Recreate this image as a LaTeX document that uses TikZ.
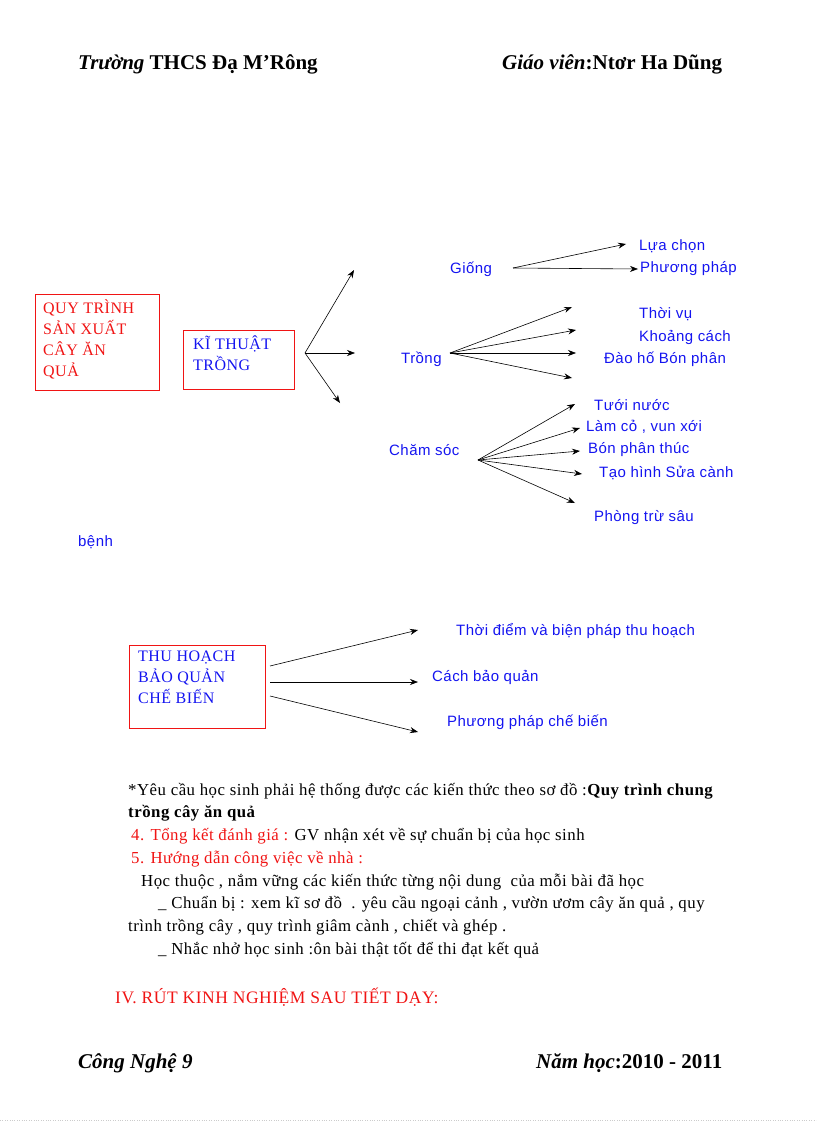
\documentclass[tikz,border=0pt]{standalone}
\usepackage{fontspec}
\setmainfont{Liberation Serif}
\newfontfamily\lab[LetterSpace=3]{Liberation Sans}
\newfontfamily\bod[LetterSpace=3]{Liberation Serif}
\usetikzlibrary{arrows.meta}
\definecolor{lblue}{RGB}{20,20,240}
\definecolor{lred}{RGB}{240,20,20}
\tikzset{
 lbl/.style={anchor=west,inner sep=0pt,font=\lab\fontsize{15}{16}\selectfont,text=lblue},
 txt/.style={anchor=west,inner sep=0pt,font=\bod\fontsize{16.8}{18}\selectfont},
 boxt/.style={align=left,anchor=north west,inner sep=0pt,font=\bod\fontsize{16}{21}\selectfont},
 hdr/.style={anchor=west,inner sep=0pt,font=\bfseries\fontsize{21}{23}\selectfont},
 arr/.style={-{Stealth[length=8pt,width=6pt]},line width=0.6pt},
}
\begin{document}
\begin{tikzpicture}[x=1pt,y=-1pt]
\useasboundingbox (0,0) rectangle (816,1123);
\node[hdr] (h1) at (78,64) {\itshape Trường\upshape{} THCS Đạ M’Rông};
\node[hdr] (h2) at (502,64) {\itshape Giáo viên\upshape:Ntơr Ha Dũng};
\node[hdr] (f1) at (78,1063) {\itshape Công Nghệ 9};
\node[hdr] (f2) at (536,1063) {\itshape Năm học\upshape:2010 - 2011};
\draw[gray!40,dotted] (0,1120) -- (816,1120);
% boxes
\draw[lred,line width=0.8pt] (35,294) rectangle (159,390);
\node[boxt,text=lred] (qt) at (43,300) {QUY TRÌNH\\SẢN XUẤT\\CÂY ĂN\\QUẢ};
\draw[lred,line width=0.8pt] (183,330) rectangle (294,389);
\node[boxt,text=lblue] (kt) at (193,336) {KĨ THUẬT\\TRỒNG};
\coordinate (k0) at (305,353);
\coordinate (k1) at (354,270); \coordinate (k2) at (355,353); \coordinate (k3) at (340,403);
\draw[arr] (k0) -- (k1); \draw[arr] (k0) -- (k2); \draw[arr] (k0) -- (k3);
% Giong
\node[lbl] (g) at (450,269) {Giống};
\coordinate (g0) at (513,268);
\coordinate (g1) at (626,244); \coordinate (g2) at (638,269);
\draw[arr] (g0) -- (g1); \draw[arr] (g0) -- (g2);
\node[lbl] (g1t) at (639,246) {Lựa chọn};
\node[lbl] (g2t) at (640,269) {Phương pháp};
% Trong
\node[lbl] (t) at (401,359) {Trồng};
\coordinate (t0) at (450,353);
\coordinate (t1) at (572,307); \coordinate (t2) at (576,330); \coordinate (t3) at (576,353); \coordinate (t4) at (572,378);
\foreach \c in {t1,t2,t3,t4} \draw[arr] (t0) -- (\c);
\node[lbl] (t1t) at (639,314) {Thời vụ};
\node[lbl] (t2t) at (639,337) {Khoảng cách};
\node[lbl] (t3t) at (604,359) {Đào hố Bón phân};
% Cham soc
\node[lbl] (c) at (389,450) {Chăm sóc};
\coordinate (c0) at (478,460);
\coordinate (c1) at (575,404); \coordinate (c2) at (580,428); \coordinate (c3) at (580,451); \coordinate (c4) at (582,474); \coordinate (c5) at (575,503);
\foreach \c in {c1,c2,c3,c4,c5} \draw[arr] (c0) -- (\c);
\node[lbl] (c1t) at (594,405) {Tưới nước};
\node[lbl] (c2t) at (586,427) {Làm cỏ , vun xới};
\node[lbl] (c3t) at (588,450) {Bón phân thúc};
\node[lbl] (c4t) at (599,473) {Tạo hình Sửa cành};
\node[lbl] (c5t) at (594,518) {Phòng trừ sâu};
\node[lbl] (c6t) at (78,542) {bệnh};
% Thu hoach
\draw[lred,line width=0.8pt] (129,645) rectangle (265,728);
\node[boxt,text=lblue] (th) at (138,651) {THU HOẠCH\\BẢO QUẢN\\CHẾ BIẾN};
\coordinate (a0) at (270,666); \coordinate (a1) at (418,630);
\coordinate (b0) at (270,682); \coordinate (b1) at (418,682);
\coordinate (d0) at (270,696); \coordinate (d1) at (418,732);
\draw[arr] (a0) -- (a1); \draw[arr] (b0) -- (b1); \draw[arr] (d0) -- (d1);
\node[lbl] (a1t) at (456,631) {Thời điểm và biện pháp thu hoạch};
\node[lbl] (b1t) at (432,677) {Cách bảo quản};
\node[lbl] (d1t) at (447,722) {Phương pháp chế biến};
% text
\node[txt] (l1) at (128,791) {*Yêu cầu học sinh phải hệ thống được các kiến thức theo sơ đồ :\textbf{Quy trình chung}};
\node[txt] (l2) at (128,813) {\textbf{trồng cây ăn quả}};
\node[txt] (l3) at (131,836) {\textcolor{lred}{4. Tổng kết đánh giá :} GV nhận xét về sự chuẩn bị của học sinh};
\node[txt,text=lred] (l4) at (131,859) {5. Hướng dẫn công việc về nhà :};
\node[txt] (l5) at (141,882) {Học thuộc , nắm vững các kiến thức từng nội dung\ \ của mỗi bài đã học};
\node[txt] (l6) at (158,904) {\_ Chuẩn bị : xem kĩ sơ đồ\ \ . yêu cầu ngoại cảnh , vườn ươm cây ăn quả , quy};
\node[txt] (l7) at (128,927) {trình trồng cây , quy trình giâm cành , chiết và ghép .};
\node[txt] (l8) at (158,950) {\_ Nhắc nhở học sinh :ôn bài thật tốt để thi đạt kết quả};
\node[txt,text=lred,font=\bod\fontsize{17.5}{19}\selectfont] (l9) at (115,997) {IV. RÚT KINH NGHIỆM SAU TIẾT DẠY:};
\end{tikzpicture}
\end{document}
